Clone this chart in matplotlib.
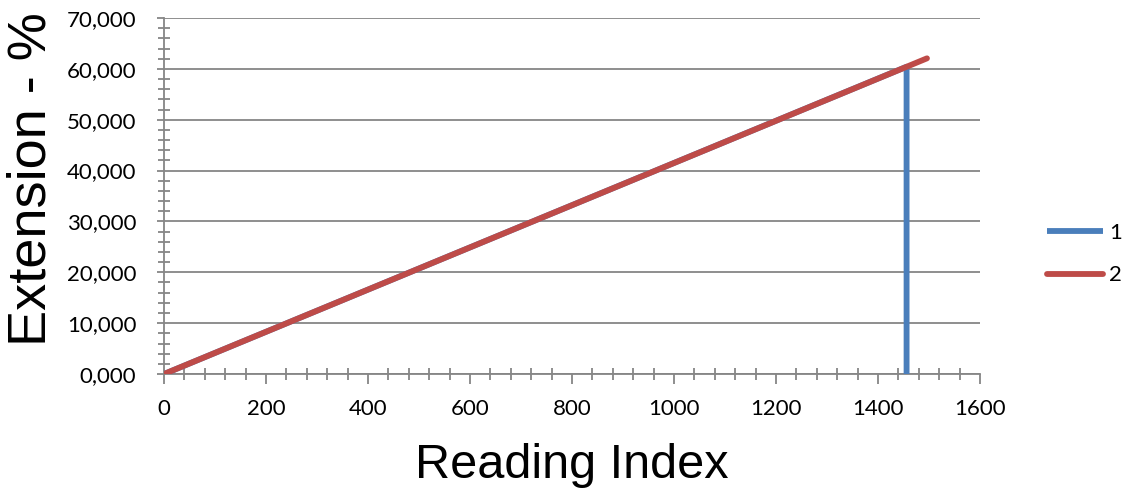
import matplotlib
matplotlib.use("Agg")
import matplotlib.pyplot as plt
from matplotlib.ticker import MultipleLocator, FuncFormatter

# readings
s1_x = [0, 1456, 1456]
s1_y = [0, 60420, 0]
s2_x = [0, 1496]
s2_y = [0, 62070]
labels = ["1", "2"]
colors = ["#4a7ebb", "#be4b48"]
grid_c = "#868686"

fig = plt.figure(figsize=(11.31, 4.92), dpi=100)
ax = fig.add_axes([0.145, 0.2398, 0.7215, 0.7236])

l1, = ax.plot(s1_x, s1_y, color=colors[0], lw=4.2, solid_capstyle="butt", zorder=3)
l2, = ax.plot(s2_x, s2_y, color=colors[1], lw=4.2, solid_capstyle="round", zorder=4)

ax.set_xlim(0, 1600)
ax.set_ylim(0, 70000)
ax.xaxis.set_major_locator(MultipleLocator(200))
ax.xaxis.set_minor_locator(MultipleLocator(40))
ax.yaxis.set_major_locator(MultipleLocator(10000))
ax.yaxis.set_minor_locator(MultipleLocator(2000))
ax.yaxis.set_major_formatter(FuncFormatter(lambda v, p: f"{int(v/1000)},000"))

ax.grid(axis="y", which="major", color=grid_c, lw=1.3)
ax.set_axisbelow(True)
for s in ["top", "right"]:
    ax.spines[s].set_visible(False)
for s in ["left", "bottom"]:
    ax.spines[s].set_color(grid_c)
    ax.spines[s].set_linewidth(1.3)

ax.tick_params(axis="x", which="major", direction="out", length=7, width=1.3, color=grid_c, pad=11)
ax.tick_params(axis="x", which="minor", direction="inout", length=8, width=1.3, color=grid_c)
ax.tick_params(axis="y", which="major", direction="out", length=5, width=1.3, color=grid_c, pad=15)
ax.tick_params(axis="y", which="minor", direction="inout", length=8, width=1.3, color=grid_c)
for t in ax.get_xticklabels() + ax.get_yticklabels():
    t.set_fontfamily("Lato")
    t.set_fontsize(16)

ax.set_xlabel("Reading Index", fontfamily="Liberation Sans", fontsize=35, labelpad=17)
ax.set_ylabel("Extension - %", fontfamily="Liberation Sans", fontsize=39)
ax.yaxis.set_label_coords(-0.132, 0.548)

leg = fig.legend([l1, l2], labels, loc="center left", bbox_to_anchor=(0.908, 0.483),
                 frameon=False, handlelength=2.5, labelspacing=1.0, handletextpad=0.3,
                 prop={"family": "Lato", "size": 16})

fig.savefig("out.png", dpi=100)
